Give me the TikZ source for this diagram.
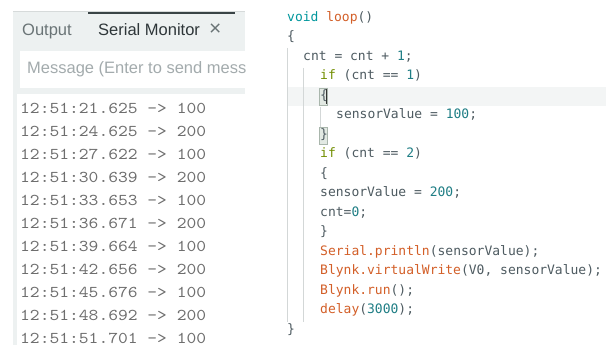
\documentclass[tikz,border=0pt]{standalone}
\usepackage{fontspec}
\newfontfamily\uifont{Liberation Sans}
\newfontfamily\codefont{DejaVu Sans Mono}
\newfontfamily\logfont{lmmono10-regular.otf}[FakeStretch=1.13]

\definecolor{panelbg}{HTML}{EDF1F1}
\definecolor{tabrule}{HTML}{D6DADA}
\definecolor{tabactive}{HTML}{3A4446}
\definecolor{uidim}{HTML}{6A7476}
\definecolor{uitext}{HTML}{2E3639}
\definecolor{placeholder}{HTML}{A3ABAD}
\definecolor{logtext}{HTML}{6E6E6E}
\definecolor{codetext}{HTML}{4E5B61}
\definecolor{kwteal}{HTML}{00979D}
\definecolor{fnorange}{HTML}{D35F28}
\definecolor{ctlgreen}{HTML}{728E00}
\definecolor{numteal}{HTML}{1F7E85}
\definecolor{hlline}{HTML}{F3F5F5}
\definecolor{bracefill}{HTML}{E2E9E3}
\definecolor{braceline}{HTML}{A9B6AC}
\definecolor{guide}{HTML}{D3D7D7}

\newcommand\cKey[1]{\textcolor{kwteal}{#1}}
\newcommand\cFun[1]{\textcolor{fnorange}{#1}}
\newcommand\cCtl[1]{\textcolor{ctlgreen}{#1}}
\newcommand\cNum[1]{\textcolor{numteal}{#1}}

\begin{document}
\begin{tikzpicture}
[x=1pt, y=-1pt,
 tabtext/.style ={font=\uifont\fontsize{16.5}{20}\selectfont, anchor=mid west, inner sep=0},
 logline/.style ={font=\logfont\fontsize{16.5}{20}\selectfont, text=logtext, anchor=base west, inner sep=0},
 codeline/.style ={font=\codefont\fontsize{13}{16}\selectfont, text=codetext, anchor=mid west, inner sep=0},
 bracebox/.style ={draw=braceline, fill=bracefill, line width=0.8pt},
 guideline/.style ={draw=guide, line width=0.8pt}]
\useasboundingbox (0,0) rectangle (606,345);
\fill[white] (0,0) rectangle (606,345);

% serial monitor panel
\fill[panelbg] (13,12) rectangle (245,345);
\draw[tabrule, line width=1pt] (13,12) -- (245,12);
\draw[tabactive, line width=2pt] (88,13) -- (235,13);
\node[tabtext, text=uidim] (outtab) at (22,33) {Output};
\node[tabtext, text=uitext] (sertab) at (98,33) {Serial Monitor};
\node[tabtext, text=uidim, font=\uifont\fontsize{21}{24}\selectfont] (close) at (209,33) {×};
\fill[white] (20,51) rectangle (245,88);
\begin{scope}
\clip (20,51) rectangle (245,88);
\node[tabtext, text=placeholder] (msg) at (27,71) {Message (Enter to send message to ESP32)};
\end{scope}
\fill[white] (17,94) rectangle (245,345);
\foreach \stamp/\val [count=\i from 0] in
  {21.625/100,24.625/200,27.622/100,30.639/200,33.653/100,36.671/200,
   39.664/100,42.656/200,45.676/100,48.692/200,51.701/100}
  \node[logline] (log\i) at (20,{113.5+22.95*\i}) {12:51:\stamp\ -> \val};

% sketch code
\fill[hlline] (288,87) rectangle (606,106);
\draw[guideline] (287,48) -- (287,322);
\draw[guideline] (303,68) -- (303,322);
\draw[guideline] (320,107) -- (320,127);
\draw[bracebox] (319.3,88.5) rectangle (327.8,105.5);
\draw[bracebox] (319.3,127.8) rectangle (327.8,144.5);

\node[codeline] (l1) at (287,19) {\cKey{void} \cFun{loop}()};
\node[codeline] (l2) at (287,38.5) {\{};
\node[codeline] (l3) at (303,58) {cnt = cnt + \cNum{1};};
\node[codeline] (l4) at (320,77.5) {\cCtl{if} (cnt == \cNum{1})};
\node[codeline] (l5) at (320,97) {\{};
\node[codeline] (l6) at (336,116.5) {sensorValue = \cNum{100};};
\node[codeline] (l7) at (320,136) {\}};
\node[codeline] (l8) at (320,155.5) {\cCtl{if} (cnt == \cNum{2})};
\node[codeline] (l9) at (320,175) {\{};
\node[codeline] (l10) at (320,194.5) {sensorValue = \cNum{200};};
\node[codeline] (l11) at (320,214) {cnt=\cNum{0};};
\node[codeline] (l12) at (320,233.5) {\}};
\node[codeline] (l13) at (320,253) {\cFun{Serial.println}(sensorValue);};
\node[codeline] (l14) at (320,272.5) {\cFun{Blynk.virtualWrite}(V0, sensorValue);};
\node[codeline] (l15) at (320,292) {\cFun{Blynk.run}();};
\node[codeline] (l16) at (320,311.5) {\cFun{delay}(\cNum{3000});};
\node[codeline] (l17) at (287,331) {\}};
\draw[black!80, line width=1.2pt] (326.6,89.5) -- (326.6,104.5);
\end{tikzpicture}
\end{document}
